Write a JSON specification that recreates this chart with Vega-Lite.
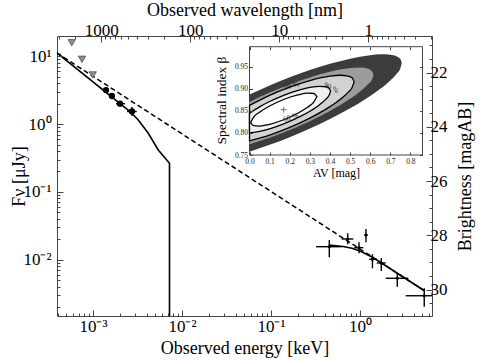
{
 "$schema": "https://vega.github.io/schema/vega-lite/v6.json",
 "width": 375, "height": 280,
 "autosize": "none",
 "padding": {"left": 57, "top": 36, "right": 48, "bottom": 44},
 "config": {
  "font": "Liberation Serif",
  "view": {"stroke": "#444", "strokeWidth": 1},
  "axis": {"domain": false, "grid": false, "labelFontSize": 17, "titleFontSize": 18, "titleFontWeight": "normal", "labelColor": "#000", "titleColor": "#000", "tickColor": "#444", "tickWidth": 1, "labelFont": "Liberation Serif", "titleFont": "Liberation Serif"}
 },
 "datasets": {
  "dash": [{"E": 3.94e-4, "F": 11.19}, {"E": 5.237, "F": 0.003513}],
  "mopt": [{"E": 3.94e-4, "F": 11.19}, {"E": 2.604e-3, "F": 1.524}, {"E": 3.228e-3, "F": 1.15}, {"E": 4.18e-3, "F": 0.732}, {"E": 5.416e-3, "F": 0.415}, {"E": 7.237e-3, "F": 0.264}, {"E": 7.237e-3, "F": 0.001}],
  "mx": [{"E": 0.4484, "F": 0.01647}, {"E": 0.6442, "F": 0.01565}, {"E": 0.813, "F": 0.01473}, {"E": 1.0, "F": 0.01344}, {"E": 1.198, "F": 0.01193}, {"E": 1.4, "F": 0.01077}, {"E": 5.237, "F": 0.003513}],
  "opt": [
   {"E": 1.40e-3, "F": 3.18, "Elo": 1.40e-3, "Ehi": 1.40e-3, "Flo": 3.18, "Fhi": 3.18},
   {"E": 1.63e-3, "F": 2.60, "Elo": 1.63e-3, "Ehi": 1.63e-3, "Flo": 2.60, "Fhi": 2.60},
   {"E": 2.01e-3, "F": 2.00, "Elo": 1.813e-3, "Ehi": 2.289e-3, "Flo": 1.94, "Fhi": 2.06},
   {"E": 2.742e-3, "F": 1.534, "Elo": 2.41e-3, "Ehi": 3.10e-3, "Flo": 1.317, "Fhi": 1.787}
  ],
  "xray": [
   {"E": 0.452, "Elo": 0.321, "Ehi": 0.622, "F": 0.01555, "Flo": 0.01085, "Fhi": 0.01953},
   {"E": 0.728, "Elo": 0.622, "Ehi": 0.841, "F": 0.0202, "Flo": 0.01687, "Fhi": 0.02452},
   {"E": 0.975, "Elo": 0.863, "Ehi": 1.089, "F": 0.01503, "Flo": 0.01243, "Fhi": 0.01806},
   {"E": 1.167, "Elo": 1.117, "Ehi": 1.221, "F": 0.02313, "Flo": 0.01806, "Fhi": 0.02836},
   {"E": 1.38, "Elo": 1.27, "Ehi": 1.541, "F": 0.01017, "Flo": 0.00747, "Fhi": 0.01201},
   {"E": 1.734, "Elo": 1.541, "Ehi": 1.946, "F": 0.00894, "Flo": 0.00681, "Fhi": 0.01059},
   {"E": 2.624, "Elo": 1.946, "Ehi": 3.49, "F": 0.00532, "Flo": 0.004, "Fhi": 0.0063},
   {"E": 5.27, "Elo": 3.26, "Ehi": 6.44, "F": 0.00294, "Flo": 0.00203, "Fhi": 0.00379}
  ],
  "ul": [{"E": 5.77e-4, "F": 15.87}, {"E": 7.52e-4, "F": 9.03}, {"E": 9.93e-4, "F": 5.30}],
  "dummy": [{"lam": 1, "mag": 25}],
  "frame": [{"a0": 0, "a1": 0.86, "b0": 0.75, "b1": 0.996}],
  "cont": [
   {"lvl": "D", "Av": 0, "lo": 0.7574, "hi": 0.8876},
   {"lvl": "D", "Av": 0.1, "lo": 0.773, "hi": 0.908},
   {"lvl": "D", "Av": 0.2, "lo": 0.7906, "hi": 0.9264},
   {"lvl": "D", "Av": 0.3, "lo": 0.8102, "hi": 0.9428},
   {"lvl": "D", "Av": 0.4, "lo": 0.8319, "hi": 0.9571},
   {"lvl": "D", "Av": 0.5, "lo": 0.8563, "hi": 0.9687},
   {"lvl": "D", "Av": 0.6, "lo": 0.8842, "hi": 0.9768},
   {"lvl": "D", "Av": 0.65, "lo": 0.9004, "hi": 0.9786},
   {"lvl": "D", "Av": 0.7, "lo": 0.9193, "hi": 0.9777},
   {"lvl": "D", "Av": 0.73, "lo": 0.9335, "hi": 0.9743},
   {"lvl": "D", "Av": 0.75, "lo": 0.947, "hi": 0.968},
   {"lvl": "D", "Av": 0.757, "lo": 0.9588, "hi": 0.9588},
   {"lvl": "M", "Av": 0, "lo": 0.7744, "hi": 0.8706},
   {"lvl": "M", "Av": 0.1, "lo": 0.7891, "hi": 0.8919},
   {"lvl": "M", "Av": 0.2, "lo": 0.8066, "hi": 0.9104},
   {"lvl": "M", "Av": 0.3, "lo": 0.8267, "hi": 0.9263},
   {"lvl": "M", "Av": 0.4, "lo": 0.85, "hi": 0.939},
   {"lvl": "M", "Av": 0.5, "lo": 0.8775, "hi": 0.9475},
   {"lvl": "M", "Av": 0.55, "lo": 0.8943, "hi": 0.9487},
   {"lvl": "M", "Av": 0.59, "lo": 0.911, "hi": 0.946},
   {"lvl": "M", "Av": 0.61, "lo": 0.922, "hi": 0.939},
   {"lvl": "M", "Av": 0.616, "lo": 0.9334, "hi": 0.9334},
   {"lvl": "L99", "Av": 0, "lo": 0.7823, "hi": 0.8627},
   {"lvl": "L99", "Av": 0.1, "lo": 0.7954, "hi": 0.8856},
   {"lvl": "L99", "Av": 0.2, "lo": 0.8127, "hi": 0.9043},
   {"lvl": "L99", "Av": 0.3, "lo": 0.8338, "hi": 0.9192},
   {"lvl": "L99", "Av": 0.4, "lo": 0.8598, "hi": 0.9292},
   {"lvl": "L99", "Av": 0.45, "lo": 0.8759, "hi": 0.9311},
   {"lvl": "L99", "Av": 0.49, "lo": 0.8921, "hi": 0.9293},
   {"lvl": "L99", "Av": 0.51, "lo": 0.9033, "hi": 0.9253},
   {"lvl": "L99", "Av": 0.52, "lo": 0.9161, "hi": 0.9161},
   {"lvl": "L90", "Av": 0, "lo": 0.8003, "hi": 0.8447},
   {"lvl": "L90", "Av": 0.05, "lo": 0.8036, "hi": 0.8594},
   {"lvl": "L90", "Av": 0.1, "lo": 0.8095, "hi": 0.8715},
   {"lvl": "L90", "Av": 0.17, "lo": 0.8206, "hi": 0.8856},
   {"lvl": "L90", "Av": 0.25, "lo": 0.837, "hi": 0.898},
   {"lvl": "L90", "Av": 0.3, "lo": 0.8495, "hi": 0.9035},
   {"lvl": "L90", "Av": 0.35, "lo": 0.8649, "hi": 0.9061},
   {"lvl": "L90", "Av": 0.38, "lo": 0.8768, "hi": 0.905},
   {"lvl": "L90", "Av": 0.395, "lo": 0.8851, "hi": 0.9021},
   {"lvl": "L90", "Av": 0.403, "lo": 0.895, "hi": 0.895},
   {"lvl": "L68", "Av": 0.005, "lo": 0.8234, "hi": 0.8234},
   {"lvl": "L68", "Av": 0.02, "lo": 0.8165, "hi": 0.8357},
   {"lvl": "L68", "Av": 0.05, "lo": 0.8157, "hi": 0.8473},
   {"lvl": "L68", "Av": 0.1, "lo": 0.8197, "hi": 0.8613},
   {"lvl": "L68", "Av": 0.17, "lo": 0.8301, "hi": 0.8761},
   {"lvl": "L68", "Av": 0.24, "lo": 0.8449, "hi": 0.8865},
   {"lvl": "L68", "Av": 0.29, "lo": 0.8589, "hi": 0.8905},
   {"lvl": "L68", "Av": 0.32, "lo": 0.8705, "hi": 0.8897},
   {"lvl": "L68", "Av": 0.335, "lo": 0.8828, "hi": 0.8828}
  ],
  "clab": [
   {"label": "99 %", "Av": 0.21, "b": 0.907},
   {"label": "90 %", "Av": 0.405, "b": 0.902},
   {"label": "68 %", "Av": 0.205, "b": 0.835}
  ],
  "best": [{"Av": 0.17, "b": 0.853}]
 },
 "resolve": {"scale": {"x": "independent", "y": "independent"}},
 "layer": [
  {"data": {"name": "dash"}, "mark": {"type": "line", "strokeDash": [5, 3], "color": "black", "strokeWidth": 1.5},
   "encoding": {
    "x": {"field": "E", "type": "quantitative", "scale": {"type": "log", "domain": [3.94e-4, 6.442], "nice": false},
     "axis": {"orient": "bottom", "values": [0.001, 0.01, 0.1, 1], "labelExpr": "datum.value < 0.005 ? '10⁻³' : datum.value < 0.05 ? '10⁻²' : datum.value < 0.5 ? '10⁻¹' : '10⁰'", "tickSize": -6, "labelPadding": 8, "title": "Observed energy [keV]", "titleY": 37, "titleBaseline": "alphabetic", "zindex": 1}},
    "y": {"field": "F", "type": "quantitative", "scale": {"type": "log", "domain": [1.477e-3, 19.93], "nice": false},
     "axis": {"orient": "left", "values": [0.01, 0.1, 1, 10], "labelExpr": "datum.value < 0.05 ? '10⁻²' : datum.value < 0.5 ? '10⁻¹' : datum.value < 5 ? '10⁰' : '10¹'", "tickSize": -6, "labelPadding": 12, "title": "Fν [μJy]", "titleX": -33, "titleBaseline": "alphabetic", "zindex": 1}}
   }},
  {"data": {"name": "mopt"}, "mark": {"type": "line", "color": "black", "strokeWidth": 1.6, "clip": true},
   "encoding": {
    "x": {"field": "E", "type": "quantitative", "scale": {"type": "log", "domain": [3.94e-4, 6.442], "nice": false},
     "axis": {"orient": "bottom", "values": [4e-4, 5e-4, 6e-4, 7e-4, 8e-4, 9e-4, 0.002, 0.003, 0.004, 0.005, 0.006, 0.007, 0.008, 0.009, 0.02, 0.03, 0.04, 0.05, 0.06, 0.07, 0.08, 0.09, 0.2, 0.3, 0.4, 0.5, 0.6, 0.7, 0.8, 0.9, 2, 3, 4, 5, 6], "labels": false, "tickSize": -3, "title": null, "zindex": 1}},
    "y": {"field": "F", "type": "quantitative", "scale": {"type": "log", "domain": [1.477e-3, 19.93], "nice": false},
     "axis": {"orient": "left", "values": [0.002, 0.003, 0.004, 0.005, 0.006, 0.007, 0.008, 0.009, 0.02, 0.03, 0.04, 0.05, 0.06, 0.07, 0.08, 0.09, 0.2, 0.3, 0.4, 0.5, 0.6, 0.7, 0.8, 0.9, 2, 3, 4, 5, 6, 7, 8, 9], "labels": false, "tickSize": -3, "title": null, "zindex": 1}}
   }},
  {"data": {"name": "mx"}, "mark": {"type": "line", "color": "black", "strokeWidth": 1.6},
   "encoding": {
    "x": {"field": "E", "type": "quantitative", "scale": {"type": "log", "domain": [3.94e-4, 6.442], "nice": false}, "axis": null},
    "y": {"field": "F", "type": "quantitative", "scale": {"type": "log", "domain": [1.477e-3, 19.93], "nice": false}, "axis": null}
   }},
  {"data": {"name": "opt"}, "mark": {"type": "rule", "color": "black", "strokeWidth": 1.4},
   "encoding": {
    "x": {"field": "Elo", "type": "quantitative", "scale": {"type": "log", "domain": [3.94e-4, 6.442], "nice": false}, "axis": null},
    "x2": {"field": "Ehi"},
    "y": {"field": "F", "type": "quantitative", "scale": {"type": "log", "domain": [1.477e-3, 19.93], "nice": false}, "axis": null}
   }},
  {"data": {"name": "opt"}, "mark": {"type": "rule", "color": "black", "strokeWidth": 1.4},
   "encoding": {
    "x": {"field": "E", "type": "quantitative", "scale": {"type": "log", "domain": [3.94e-4, 6.442], "nice": false}, "axis": null},
    "y": {"field": "Flo", "type": "quantitative", "scale": {"type": "log", "domain": [1.477e-3, 19.93], "nice": false}, "axis": null},
    "y2": {"field": "Fhi"}
   }},
  {"data": {"name": "opt"}, "mark": {"type": "point", "filled": true, "color": "black", "size": 40, "opacity": 1},
   "encoding": {
    "x": {"field": "E", "type": "quantitative", "scale": {"type": "log", "domain": [3.94e-4, 6.442], "nice": false}, "axis": null},
    "y": {"field": "F", "type": "quantitative", "scale": {"type": "log", "domain": [1.477e-3, 19.93], "nice": false}, "axis": null}
   }},
  {"data": {"name": "xray"}, "mark": {"type": "rule", "color": "black", "strokeWidth": 1.4},
   "encoding": {
    "x": {"field": "Elo", "type": "quantitative", "scale": {"type": "log", "domain": [3.94e-4, 6.442], "nice": false}, "axis": null},
    "x2": {"field": "Ehi"},
    "y": {"field": "F", "type": "quantitative", "scale": {"type": "log", "domain": [1.477e-3, 19.93], "nice": false}, "axis": null}
   }},
  {"data": {"name": "xray"}, "mark": {"type": "rule", "color": "black", "strokeWidth": 1.4},
   "encoding": {
    "x": {"field": "E", "type": "quantitative", "scale": {"type": "log", "domain": [3.94e-4, 6.442], "nice": false}, "axis": null},
    "y": {"field": "Flo", "type": "quantitative", "scale": {"type": "log", "domain": [1.477e-3, 19.93], "nice": false}, "axis": null},
    "y2": {"field": "Fhi"}
   }},
  {"data": {"name": "xray"}, "mark": {"type": "point", "filled": true, "color": "black", "size": 10, "opacity": 1},
   "encoding": {
    "x": {"field": "E", "type": "quantitative", "scale": {"type": "log", "domain": [3.94e-4, 6.442], "nice": false}, "axis": null},
    "y": {"field": "F", "type": "quantitative", "scale": {"type": "log", "domain": [1.477e-3, 19.93], "nice": false}, "axis": null}
   }},
  {"data": {"name": "ul"}, "mark": {"type": "point", "shape": "triangle-down", "filled": true, "fill": "#8c8c8c", "stroke": "#555", "strokeWidth": 0.8, "size": 55, "opacity": 1},
   "encoding": {
    "x": {"field": "E", "type": "quantitative", "scale": {"type": "log", "domain": [3.94e-4, 6.442], "nice": false}, "axis": null},
    "y": {"field": "F", "type": "quantitative", "scale": {"type": "log", "domain": [1.477e-3, 19.93], "nice": false}, "axis": null}
   }},
  {"data": {"name": "dummy"}, "mark": {"type": "point", "opacity": 0},
   "encoding": {
    "x": {"field": "lam", "type": "quantitative", "scale": {"type": "log", "domain": [0.19246, 3146.8], "reverse": true, "nice": false},
     "axis": {"orient": "top", "values": [1, 10, 100, 1000], "labelExpr": "format(datum.value, 'd')", "tickSize": -6, "labelPadding": 3, "title": "Observed wavelength [nm]", "titleY": -21, "titleBaseline": "alphabetic", "zindex": 1}},
    "y": {"field": "mag", "type": "quantitative", "scale": {"domain": [20.651, 30.977], "reverse": true, "nice": false, "zero": false},
     "axis": {"orient": "right", "values": [22, 24, 26, 28, 30], "tickSize": -6, "labelPadding": 4, "title": "Brightness [magAB]", "titleAngle": -90, "titleBaseline": "top", "titlePadding": 9, "zindex": 1}}
   }},
  {"data": {"name": "dummy"}, "mark": {"type": "point", "opacity": 0},
   "encoding": {
    "x": {"field": "lam", "type": "quantitative", "scale": {"type": "log", "domain": [0.19246, 3146.8], "reverse": true, "nice": false},
     "axis": {"orient": "top", "values": [0.2, 0.3, 0.4, 0.5, 0.6, 0.7, 0.8, 0.9, 2, 3, 4, 5, 6, 7, 8, 9, 20, 30, 40, 50, 60, 70, 80, 90, 200, 300, 400, 500, 600, 700, 800, 900, 2000, 3000], "labels": false, "tickSize": -3, "title": null, "zindex": 1}},
    "y": {"field": "mag", "type": "quantitative", "scale": {"domain": [20.651, 30.977], "reverse": true, "nice": false, "zero": false},
     "axis": {"orient": "right", "values": [21, 21.5, 22.5, 23, 23.5, 24.5, 25, 25.5, 26.5, 27, 27.5, 28.5, 29, 29.5, 30.5], "labels": false, "tickSize": -3, "title": null, "zindex": 1}}
   }},
  {"data": {"name": "frame"}, "mark": {"type": "rect", "fill": "white", "stroke": "#444", "strokeWidth": 1},
   "encoding": {
    "x": {"field": "a0", "type": "quantitative", "scale": {"domain": [-0.957, 0.9072], "nice": false, "zero": false},
     "axis": {"orient": "top", "offset": -10.7, "values": [0, 0.1, 0.2, 0.3, 0.4, 0.5, 0.6, 0.7, 0.8], "labels": false, "tickSize": -3, "title": null, "zindex": 1}},
    "x2": {"field": "a1"},
    "y": {"field": "b0", "type": "quantitative", "scale": {"domain": [0.3843, 1.0203], "nice": false, "zero": false},
     "axis": {"orient": "right", "offset": -9.5, "values": [0.75, 0.8, 0.85, 0.9, 0.95], "labels": false, "tickSize": -3, "title": null, "zindex": 1}},
    "y2": {"field": "b1"}
   }},
  {"data": {"name": "cont"}, "transform": [{"filter": "datum.lvl == 'D'"}], "mark": {"type": "area", "fill": "#3c3c3c", "interpolate": "monotone"},
   "encoding": {
    "x": {"field": "Av", "type": "quantitative", "scale": {"domain": [-0.957, 0.9072], "nice": false, "zero": false}, "axis": null},
    "y": {"field": "lo", "type": "quantitative", "scale": {"domain": [0.3843, 1.0203], "nice": false, "zero": false}, "axis": null, "stack": null},
    "y2": {"field": "hi"}
   }},
  {"data": {"name": "cont"}, "transform": [{"filter": "datum.lvl == 'M'"}], "mark": {"type": "area", "fill": "#9c9c9c", "interpolate": "monotone"},
   "encoding": {
    "x": {"field": "Av", "type": "quantitative", "scale": {"domain": [-0.957, 0.9072], "nice": false, "zero": false}, "axis": null},
    "y": {"field": "lo", "type": "quantitative", "scale": {"domain": [0.3843, 1.0203], "nice": false, "zero": false}, "axis": null, "stack": null},
    "y2": {"field": "hi"}
   }},
  {"data": {"name": "cont"}, "transform": [{"filter": "datum.lvl == 'L99'"}], "mark": {"type": "area", "fill": "#d2d2d2", "stroke": "black", "strokeWidth": 1.3, "interpolate": "monotone"},
   "encoding": {
    "x": {"field": "Av", "type": "quantitative", "scale": {"domain": [-0.957, 0.9072], "nice": false, "zero": false}, "axis": null},
    "y": {"field": "lo", "type": "quantitative", "scale": {"domain": [0.3843, 1.0203], "nice": false, "zero": false}, "axis": null, "stack": null},
    "y2": {"field": "hi"}
   }},
  {"data": {"name": "cont"}, "transform": [{"filter": "datum.lvl == 'L90'"}], "mark": {"type": "area", "fill": "#f0f0f0", "stroke": "black", "strokeWidth": 1.3, "interpolate": "monotone"},
   "encoding": {
    "x": {"field": "Av", "type": "quantitative", "scale": {"domain": [-0.957, 0.9072], "nice": false, "zero": false}, "axis": null},
    "y": {"field": "lo", "type": "quantitative", "scale": {"domain": [0.3843, 1.0203], "nice": false, "zero": false}, "axis": null, "stack": null},
    "y2": {"field": "hi"}
   }},
  {"data": {"name": "cont"}, "transform": [{"filter": "datum.lvl == 'L68'"}], "mark": {"type": "area", "fill": "white", "stroke": "black", "strokeWidth": 1.3, "interpolate": "monotone"},
   "encoding": {
    "x": {"field": "Av", "type": "quantitative", "scale": {"domain": [-0.957, 0.9072], "nice": false, "zero": false}, "axis": null},
    "y": {"field": "lo", "type": "quantitative", "scale": {"domain": [0.3843, 1.0203], "nice": false, "zero": false}, "axis": null, "stack": null},
    "y2": {"field": "hi"}
   }},
  {"data": {"name": "clab"}, "transform": [{"filter": "datum.label == '99 %'"}], "mark": {"type": "text", "fontSize": 7.5, "color": "#222", "angle": 345},
   "encoding": {
    "x": {"field": "Av", "type": "quantitative", "scale": {"domain": [-0.957, 0.9072], "nice": false, "zero": false}, "axis": null},
    "y": {"field": "b", "type": "quantitative", "scale": {"domain": [0.3843, 1.0203], "nice": false, "zero": false}, "axis": null},
    "text": {"field": "label"}
   }},
  {"data": {"name": "clab"}, "transform": [{"filter": "datum.label == '90 %'"}], "mark": {"type": "text", "fontSize": 7.5, "color": "#222", "angle": 28},
   "encoding": {
    "x": {"field": "Av", "type": "quantitative", "scale": {"domain": [-0.957, 0.9072], "nice": false, "zero": false}, "axis": null},
    "y": {"field": "b", "type": "quantitative", "scale": {"domain": [0.3843, 1.0203], "nice": false, "zero": false}, "axis": null},
    "text": {"field": "label"}
   }},
  {"data": {"name": "clab"}, "transform": [{"filter": "datum.label == '68 %'"}], "mark": {"type": "text", "fontSize": 7.5, "color": "#222", "angle": 342},
   "encoding": {
    "x": {"field": "Av", "type": "quantitative", "scale": {"domain": [-0.957, 0.9072], "nice": false, "zero": false}, "axis": null},
    "y": {"field": "b", "type": "quantitative", "scale": {"domain": [0.3843, 1.0203], "nice": false, "zero": false}, "axis": null},
    "text": {"field": "label"}
   }},
  {"data": {"name": "best"}, "mark": {"type": "point", "shape": "M-1,0L1,0M0,-1L0,1", "filled": false, "stroke": "#555", "strokeWidth": 0.8, "size": 36, "opacity": 1},
   "encoding": {
    "x": {"field": "Av", "type": "quantitative", "scale": {"domain": [-0.957, 0.9072], "nice": false, "zero": false},
     "axis": {"orient": "bottom", "offset": -161, "values": [0, 0.1, 0.2, 0.3, 0.4, 0.5, 0.6, 0.7, 0.8], "format": ".1f", "labelFontSize": 7.5, "labelColor": "#222", "labelPadding": 5, "tickSize": -3, "title": "AV [mag]", "titleFontSize": 12, "titleX": 279, "titleY": 21, "titleBaseline": "alphabetic", "zindex": 1}},
    "y": {"field": "b", "type": "quantitative", "scale": {"domain": [0.3843, 1.0203], "nice": false, "zero": false},
     "axis": {"orient": "left", "offset": -192.5, "values": [0.75, 0.8, 0.85, 0.9, 0.95], "format": ".2f", "labelFontSize": 7.5, "labelColor": "#222", "labelPadding": 5, "tickSize": -3, "title": "Spectral index β", "titleFontSize": 13.5, "titleX": -24, "titleY": 64, "titleAngle": -90, "titleBaseline": "alphabetic", "zindex": 1}}
   }}
 ]
}
